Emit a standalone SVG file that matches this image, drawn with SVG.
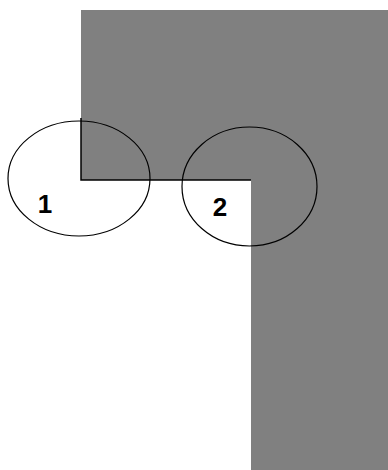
<svg xmlns="http://www.w3.org/2000/svg" width="388" height="470" viewBox="0 0 388 470">
<style>
.lbl{font-family:"Liberation Sans",Arial,sans-serif;font-weight:bold;font-size:26px;text-anchor:middle;fill:#000}
.el{fill:none;stroke:#000;stroke-width:1.2}
</style>
<rect width="388" height="470" fill="#fff"/>
<g id="region">
<path d="M81 10H388V470H251V180H81Z" fill="#808080"/>
</g>
<g id="connectors">
<path d="M81 118V180H251" fill="none" stroke="#000" stroke-width="1.5"/>
</g>
<g id="node1">
<ellipse class="el" cx="79" cy="178.5" rx="71" ry="57.5"/>
<text class="lbl" x="45" y="213">1</text>
</g>
<g id="node2">
<ellipse class="el" cx="249.5" cy="186.5" rx="67.5" ry="59.5"/>
<text class="lbl" x="220" y="216">2</text>
</g>
</svg>
